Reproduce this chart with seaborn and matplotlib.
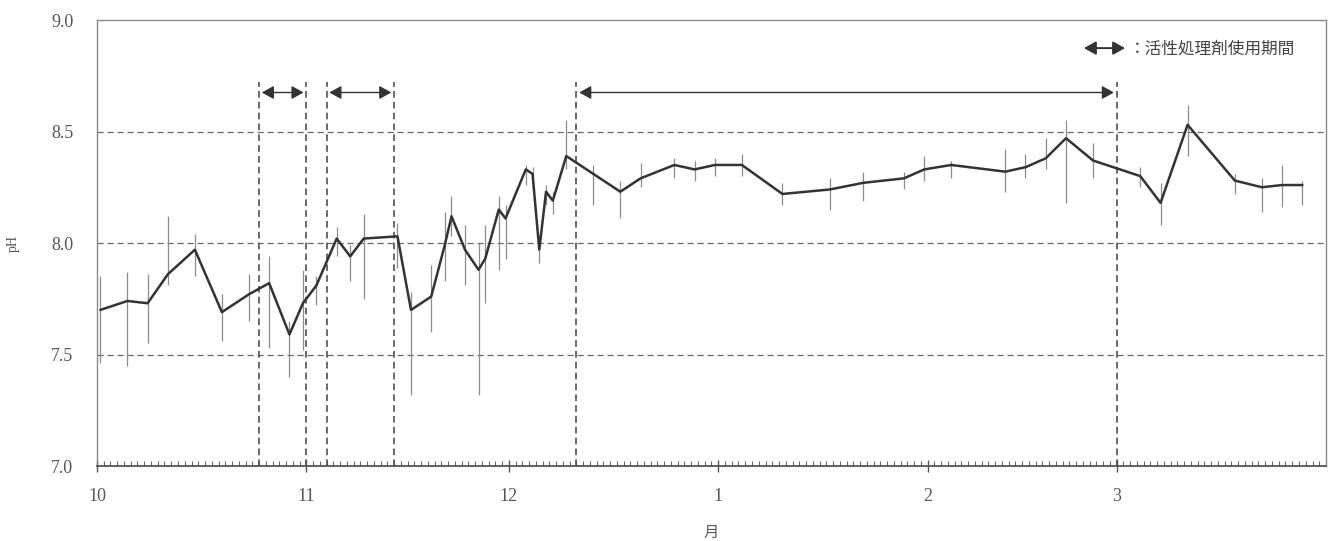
import pandas as pd
import matplotlib
matplotlib.use("Agg")
import matplotlib.pyplot as plt
import matplotlib.dates as mdates
import seaborn as sns

OUTPUT_PATH = "out.png"

# sampling dates (Oct -> Mar)
dates = [
    "2006-10-01", "2006-10-05", "2006-10-08", "2006-10-11", "2006-10-15",
    "2006-10-19", "2006-10-23", "2006-10-26", "2006-10-29", "2006-10-31",
    "2006-11-02", "2006-11-05", "2006-11-07", "2006-11-09", "2006-11-14",
    "2006-11-16", "2006-11-19", "2006-11-21", "2006-11-22", "2006-11-24",
    "2006-11-26", "2006-11-27", "2006-11-29", "2006-11-30", "2006-12-03",
    "2006-12-04", "2006-12-05", "2006-12-06", "2006-12-07", "2006-12-09",
    "2006-12-13", "2006-12-17", "2006-12-20", "2006-12-25", "2006-12-28",
    "2006-12-31", "2007-01-04", "2007-01-10", "2007-01-17", "2007-01-22",
    "2007-01-28", "2007-01-31", "2007-02-04", "2007-02-12", "2007-02-15",
    "2007-02-18", "2007-02-21", "2007-02-25", "2007-03-04", "2007-03-07",
    "2007-03-11", "2007-03-18", "2007-03-22", "2007-03-25", "2007-03-28",
]
ph = [
    7.70, 7.74, 7.73, 7.86, 7.97, 7.69, 7.77, 7.82, 7.59, 7.73,
    7.81, 8.02, 7.94, 8.02, 8.03, 7.70, 7.76, 7.99, 8.12, 7.97,
    7.88, 7.93, 8.15, 8.11, 8.33, 8.31, 7.97, 8.23, 8.19, 8.39,
    8.31, 8.23, 8.29, 8.35, 8.33, 8.35, 8.35, 8.22, 8.24, 8.27,
    8.29, 8.33, 8.35, 8.32, 8.34, 8.38, 8.47, 8.37, 8.30, 8.18,
    8.53, 8.28, 8.25, 8.26, 8.26,
]
ph_low = [
    7.46, 7.45, 7.55, 7.81, 7.85, 7.56, 7.65, 7.53, 7.40, 7.52,
    7.72, 7.94, 7.83, 7.75, 7.89, 7.32, 7.60, 7.83, 8.03, 7.81,
    7.32, 7.73, 7.88, 7.93, 8.26, 8.26, 7.91, 8.17, 8.13, 8.33,
    8.17, 8.11, 8.25, 8.29, 8.28, 8.30, 8.30, 8.17, 8.15, 8.19,
    8.24, 8.28, 8.29, 8.23, 8.29, 8.33, 8.18, 8.29, 8.25, 8.08,
    8.39, 8.22, 8.14, 8.16, 8.17,
]
ph_high = [
    7.85, 7.87, 7.86, 8.12, 8.04, 7.77, 7.86, 7.94, 7.65, 7.88,
    7.85, 8.07, 7.99, 8.13, 8.09, 7.78, 7.90, 8.14, 8.21, 8.08,
    8.00, 8.08, 8.21, 8.17, 8.35, 8.34, 8.03, 8.26, 8.23, 8.55,
    8.35, 8.28, 8.36, 8.38, 8.37, 8.38, 8.40, 8.27, 8.29, 8.32,
    8.32, 8.39, 8.37, 8.42, 8.40, 8.47, 8.55, 8.45, 8.34, 8.27,
    8.62, 8.31, 8.29, 8.35, 8.28,
]

# periods when the activating agent was used
period_start = ["2006-10-25", "2006-11-04", "2006-12-11"]
period_end = ["2006-11-01", "2006-11-14", "2007-03-01"]

month_starts = ["2006-10-01", "2006-11-01", "2006-12-01",
                "2007-01-01", "2007-02-01", "2007-03-01"]
month_labels = ["10", "11", "12", "1", "2", "3"]
y_ticks = [7.0, 7.5, 8.0, 8.5, 9.0]

legend_text = "：活性処理剤使用期間"


def main():
    sns.set_style("white")
    plt.rcParams["font.family"] = ["Liberation Serif", "Noto Sans CJK JP", "DejaVu Sans"]

    fig = plt.figure(figsize=(13.32, 5.41), dpi=100)
    ax = fig.add_axes([0.0728, 0.1386, 0.9227, 0.8244])

    x = pd.to_datetime(dates) + pd.Timedelta(hours=12)
    df = pd.DataFrame({"date": x, "ph": ph, "low": ph_low, "high": ph_high})

    # horizontal dashed grid
    for v in [7.5, 8.0, 8.5]:
        ax.axhline(v, color="#6a6a6a", lw=0.9, ls=(0, (5, 3)), zorder=1)

    # min-max bars
    ax.vlines(df["date"], df["low"], df["high"], color="#8c8c8c", lw=0.9, zorder=3)

    sns.lineplot(data=df, x="date", y="ph", ax=ax, color="#333333",
                 linewidth=1.8, zorder=4)

    # period markers
    arrow_y = 8.675
    for s, e in zip(period_start, period_end):
        s, e = pd.Timestamp(s), pd.Timestamp(e)
        ax.vlines([s, e], 7.0, 8.72, color="#505050", lw=1.2,
                  linestyles=(0, (4, 2.5)), zorder=2)
        ax.annotate("", xy=(e, arrow_y), xytext=(s, arrow_y),
                    arrowprops=dict(arrowstyle="<|-|>,head_length=0.45,head_width=0.25",
                                    mutation_scale=16, color="#333333", lw=1.0,
                                    shrinkA=2, shrinkB=2))

    # legend
    ax.annotate("", xy=(0.8365, 0.937), xytext=(0.803, 0.937),
                xycoords="axes fraction", textcoords="axes fraction",
                arrowprops=dict(arrowstyle="<|-|>,head_length=0.45,head_width=0.25",
                                mutation_scale=16, color="#333333", lw=1.4,
                                shrinkA=0, shrinkB=0))
    ax.text(0.840, 0.935, legend_text, transform=ax.transAxes,
            fontsize=12, color="#444444", va="center", ha="left",
            family=["Noto Sans CJK JP", "DejaVu Sans"])

    ax.set_xlim(pd.Timestamp("2006-10-01"), pd.Timestamp("2007-04-01"))
    ax.set_ylim(7.0, 9.0)
    ax.set_yticks(y_ticks)
    ax.set_yticklabels([f"{v:.1f}" for v in y_ticks])
    ax.set_xticks(pd.to_datetime(month_starts))
    ax.set_xticklabels(month_labels)
    ax.xaxis.set_minor_locator(mdates.DayLocator())

    ax.tick_params(axis="x", which="major", bottom=True, direction="inout", length=9,
                   width=1.0, color="#555555", labelsize=13, labelcolor="#555555", pad=11)
    ax.tick_params(axis="x", which="minor", bottom=True, direction="in", length=3.5,
                   width=0.8, color="#666666")
    ax.tick_params(axis="y", left=False, length=0, labelsize=13,
                   labelcolor="#555555", pad=17)

    ax.set_xlabel("月", fontsize=11, color="#555555", labelpad=16)
    ax.set_ylabel("pH", fontsize=10, color="#555555")
    ax.yaxis.set_label_coords(-0.063, 0.5)

    for side in ["left", "top", "right"]:
        ax.spines[side].set_color("#888888")
        ax.spines[side].set_linewidth(1.0)
    ax.spines["bottom"].set_color("#555555")
    ax.spines["bottom"].set_linewidth(1.3)

    fig.savefig(OUTPUT_PATH, dpi=100)
    plt.close(fig)


if __name__ == "__main__":
    main()
